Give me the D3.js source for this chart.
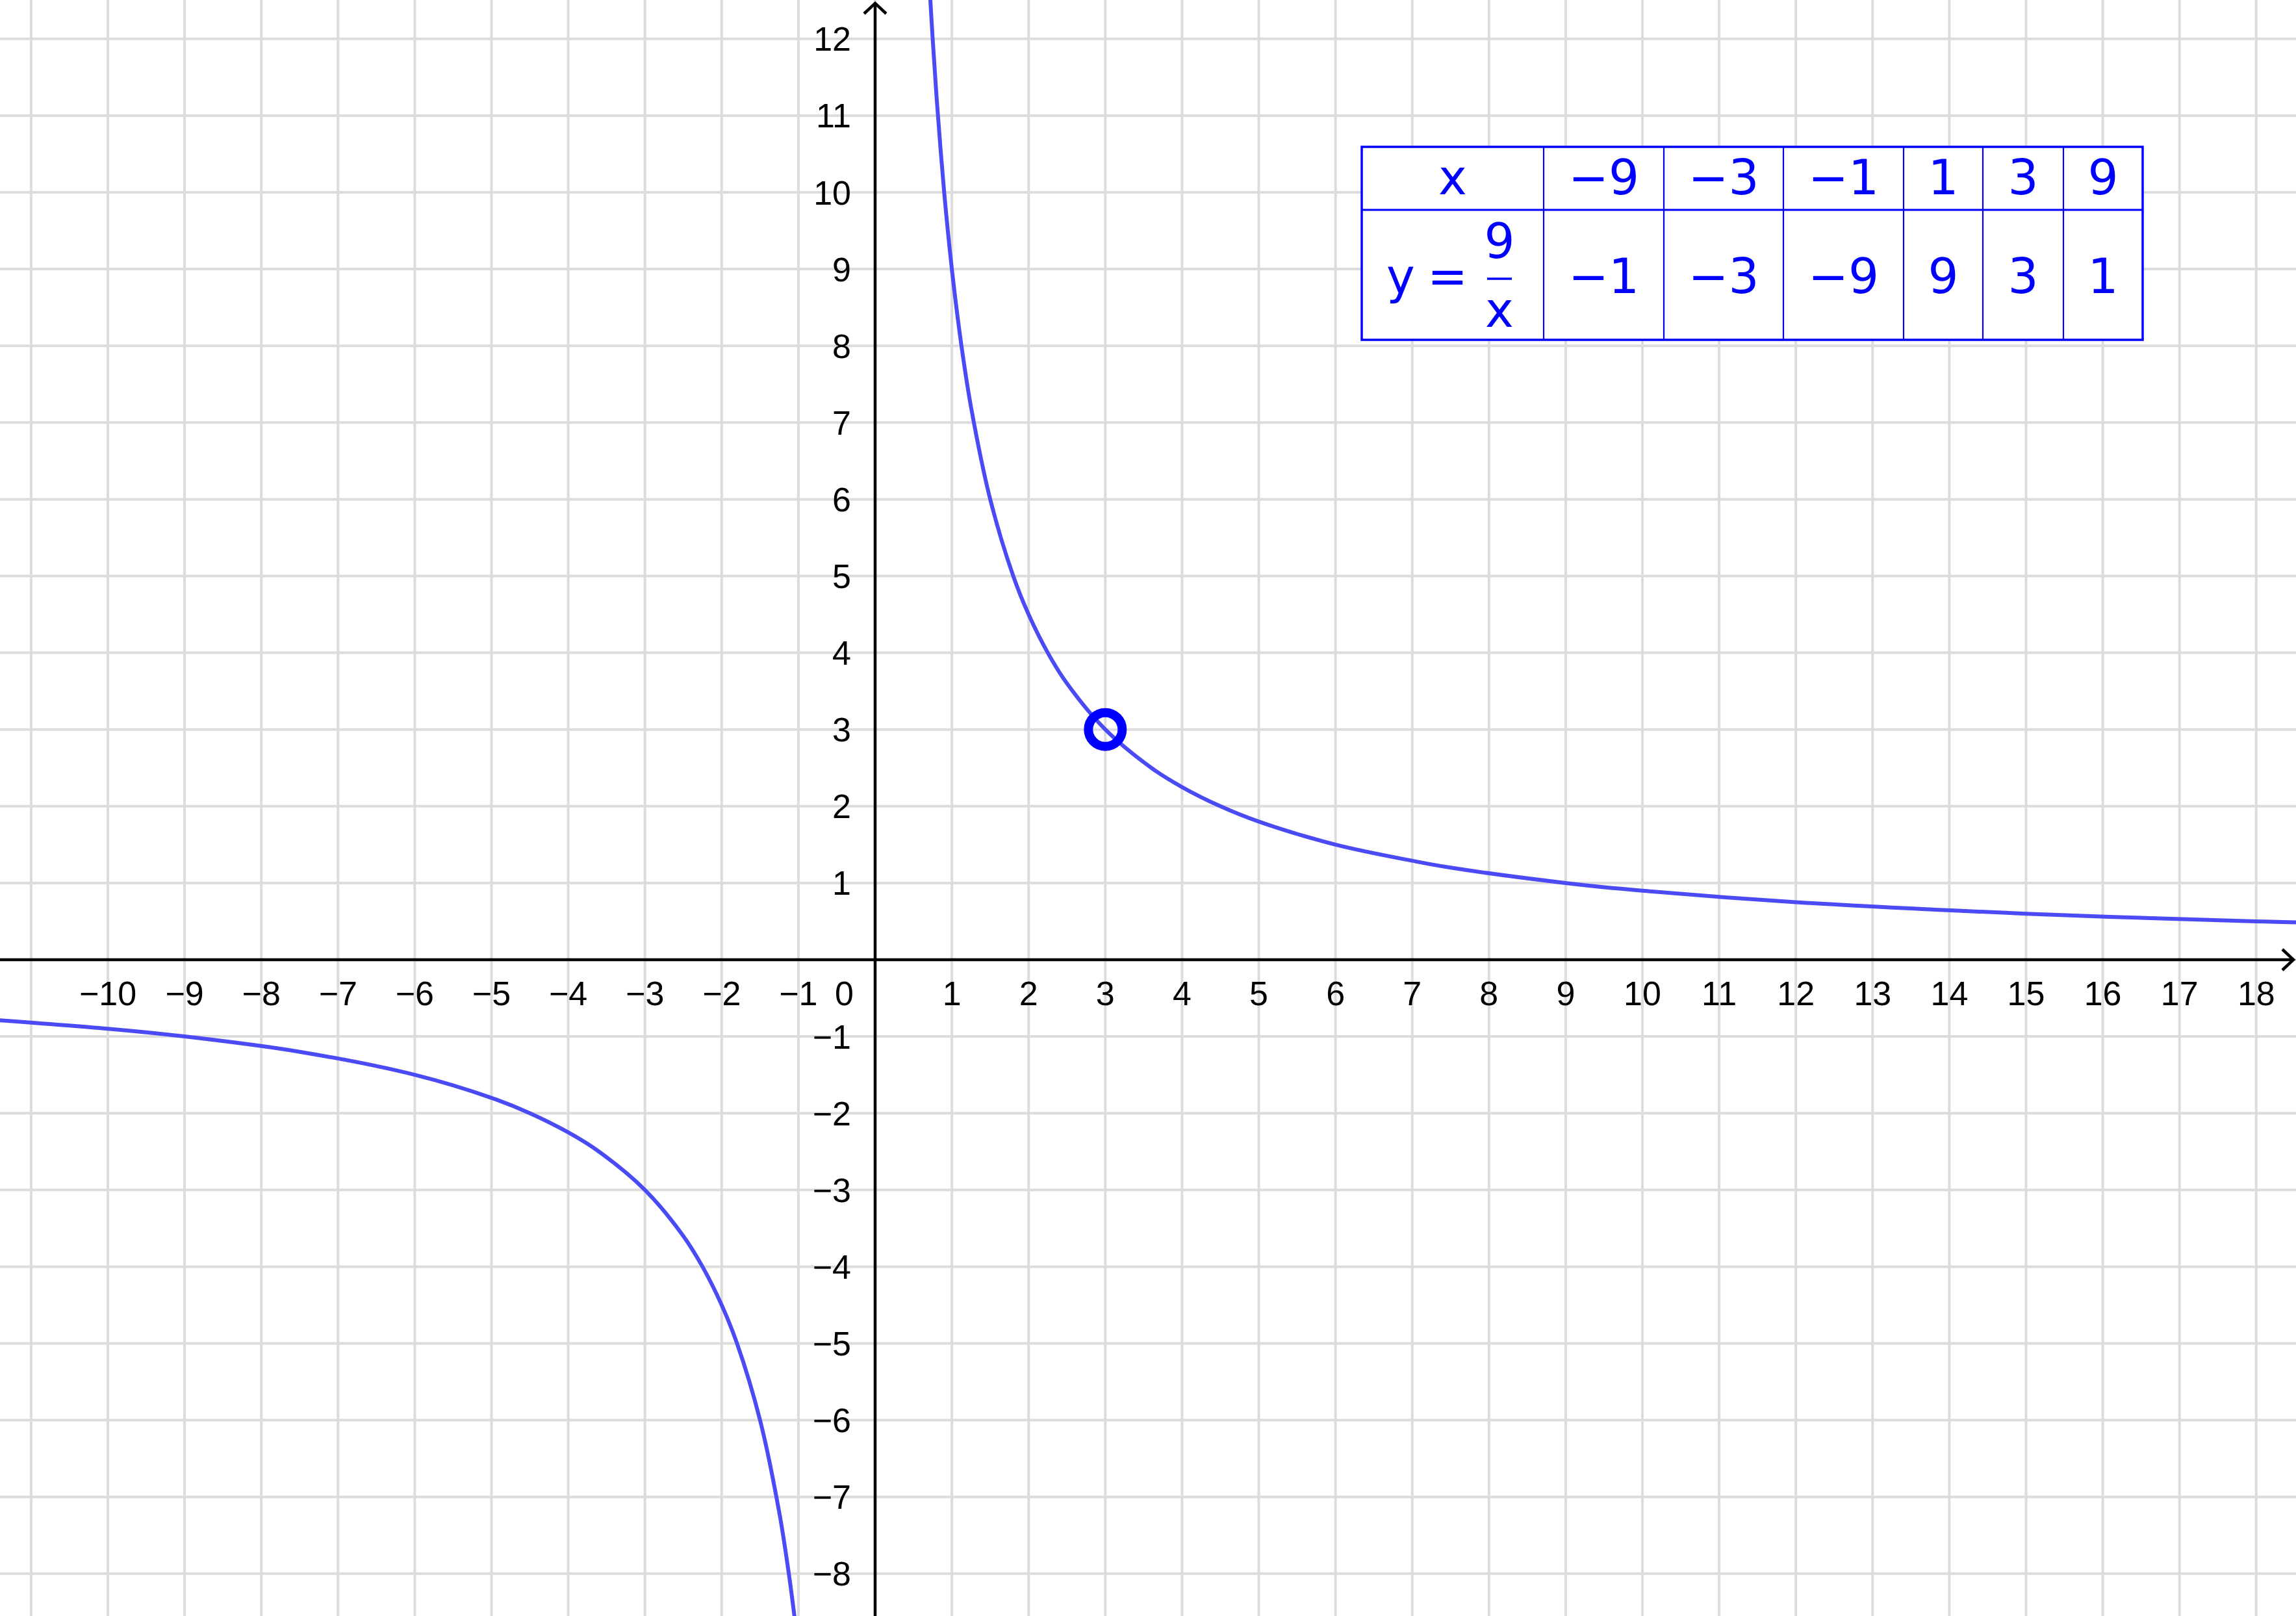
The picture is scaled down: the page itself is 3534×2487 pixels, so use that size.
<!DOCTYPE html>
<html>
<head>
<meta charset="utf-8">
<script src="https://cdn.jsdelivr.net/npm/d3@7"></script>
<style>
  html, body { margin: 0; padding: 0; background: #fff; }
  svg { display: block; }
</style>
</head>
<body>
<script>
// ---------- data ----------
const xTicks = [-10,-9,-8,-7,-6,-5,-4,-3,-2,-1,1,2,3,4,5,6,7,8,9,10,11,12,13,14,15,16,17,18];
const yTicks = [12,11,10,9,8,7,6,5,4,3,2,1,-1,-2,-3,-4,-5,-6,-7,-8];
const gridX = d3.range(-11, 19);
const gridY = d3.range(-8, 13);

// points read along the curve y = 9/x (upper branch)
const upperX = [0.72, 0.75, 0.8, 0.9, 1, 1.125, 1.25, 1.5, 1.8, 2, 2.25, 2.5, 3, 3.6, 4, 4.5, 5, 6, 7, 7.5, 9, 10, 12, 15, 18, 18.6];
const upperY = [12.5, 12, 11.25, 10, 9, 8, 7.2, 6, 5, 4.5, 4, 3.6, 3, 2.5, 2.25, 2, 1.8, 1.5, 1.29, 1.2, 1, 0.9, 0.75, 0.6, 0.5, 0.484];
// lower branch
const lowerX = [-11.5, -10, -9, -7.5, -6, -5, -4.5, -4, -3.6, -3, -2.5, -2.25, -2, -1.8, -1.5, -1.25, -1.125, -1.05];
const lowerY = [-0.783, -0.9, -1, -1.2, -1.5, -1.8, -2, -2.25, -2.5, -3, -3.6, -4, -4.5, -5, -6, -7.2, -8, -8.57];

// highlighted point
const pointX = [3];
const pointY = [3];

// table values
const tableX = ["−9", "−3", "−1", "1", "3", "9"];
const tableY = ["−1", "−3", "−9", "9", "3", "1"];

// ---------- layout ----------
const W = 3534, H = 2487;
const originX = 1347, originY = 1477, unit = 118.1;

const x = d3.scaleLinear()
  .domain([-originX / unit, (W - originX) / unit])
  .range([0, W]);
const y = d3.scaleLinear()
  .domain([-(H - originY) / unit, originY / unit])
  .range([H, 0]);

const svg = d3.select("body").append("svg")
  .attr("width", W).attr("height", H)
  .attr("viewBox", `0 0 ${W} ${H}`);

svg.append("rect").attr("width", W).attr("height", H).attr("fill", "#fff");

// grid
const grid = svg.append("g").attr("stroke", "#dcdcdc").attr("stroke-width", 4);
grid.selectAll("line.gx").data(gridX).join("line")
  .attr("class", "gx")
  .attr("x1", d => x(d)).attr("x2", d => x(d))
  .attr("y1", 0).attr("y2", H);
grid.selectAll("line.gy").data(gridY).join("line")
  .attr("class", "gy")
  .attr("y1", d => y(d)).attr("y2", d => y(d))
  .attr("x1", 0).attr("x2", W);

// axes
const x0 = x(0), y0 = y(0);
const axes = svg.append("g").attr("stroke", "#000").attr("stroke-width", 4.5).attr("fill", "none");
axes.append("line").attr("x1", 0).attr("x2", W - 4).attr("y1", y0).attr("y2", y0);
axes.append("line").attr("x1", x0).attr("x2", x0).attr("y1", 5).attr("y2", H);
axes.append("path")
  .attr("d", `M${W - 4 - 17},${y0 - 16} L${W - 4},${y0} L${W - 4 - 17},${y0 + 16}`)
  .attr("stroke-linejoin", "miter");
axes.append("path")
  .attr("d", `M${x0 - 17},${5 + 16} L${x0},5 L${x0 + 17},${5 + 16}`)
  .attr("stroke-linejoin", "miter");

// tick labels
const labelFont = "'Liberation Sans', Arial, sans-serif";
const fmt = d => d < 0 ? "−" + Math.abs(d) : String(d);
svg.append("g")
  .attr("font-family", labelFont).attr("font-size", 52).attr("fill", "#000")
  .attr("text-anchor", "middle")
  .selectAll("text").data(xTicks).join("text")
  .attr("x", d => x(d)).attr("y", y0 + 70)
  .text(fmt);
svg.append("g")
  .attr("font-family", labelFont).attr("font-size", 52).attr("fill", "#000")
  .attr("text-anchor", "end")
  .selectAll("text").data(yTicks).join("text")
  .attr("x", x0 - 37).attr("y", d => y(d) + 18.5)
  .text(fmt);
svg.append("text")
  .attr("font-family", labelFont).attr("font-size", 52).attr("fill", "#000")
  .attr("text-anchor", "end")
  .attr("x", x0 - 33).attr("y", y0 + 70)
  .text("0");

// curve
const line = d3.line().x(d => x(d[0])).y(d => y(d[1])).curve(d3.curveCatmullRom.alpha(0.5));
const curveG = svg.append("g").attr("fill", "none").attr("stroke", "#4b4bf5")
  .attr("stroke-width", 6).attr("stroke-linecap", "round").attr("stroke-linejoin", "round");
curveG.append("path").attr("d", line(d3.zip(upperX, upperY)));
curveG.append("path").attr("d", line(d3.zip(lowerX, lowerY)));

// point
svg.append("g").selectAll("circle").data(d3.zip(pointX, pointY)).join("circle")
  .attr("cx", d => x(d[0])).attr("cy", d => y(d[1]))
  .attr("r", 26).attr("fill", "#fff").attr("fill-opacity", 0)
  .attr("stroke", "#0000ff").attr("stroke-width", 14);

// table
const tLeft = 2096, tTop = 226, rowH = [97, 200];
const colW = [280, 185, 184, 185, 122, 124, 122];
const colEdges = [tLeft];
colW.forEach(w => colEdges.push(colEdges[colEdges.length - 1] + w));
const tRight = colEdges[colEdges.length - 1];
const tMid = tTop + rowH[0], tBottom = tMid + rowH[1];
const blue = "#0000ff";
const tbl = svg.append("g");
tbl.append("rect").attr("x", tLeft).attr("y", tTop)
  .attr("width", tRight - tLeft).attr("height", tBottom - tTop)
  .attr("fill", "#fff").attr("stroke", blue).attr("stroke-width", 3.5);
tbl.append("line").attr("x1", tLeft).attr("x2", tRight).attr("y1", tMid).attr("y2", tMid)
  .attr("stroke", blue).attr("stroke-width", 3);
tbl.selectAll("line.cv").data(colEdges.slice(1, -1)).join("line")
  .attr("class", "cv")
  .attr("x1", d => d).attr("x2", d => d).attr("y1", tTop).attr("y2", tBottom)
  .attr("stroke", blue).attr("stroke-width", 2.2);

const tFont = "'DejaVu Sans', sans-serif";
const tText = tbl.append("g").attr("font-family", tFont).attr("font-size", 74)
  .attr("fill", blue).attr("text-anchor", "middle");
const cellCx = i => (colEdges[i] + colEdges[i + 1]) / 2;
tText.append("text").attr("x", cellCx(0)).attr("y", 299).text("x");
tText.selectAll("text.vx").data(tableX).join("text").attr("class", "vx")
  .attr("x", (d, i) => cellCx(i + 1)).attr("y", 299).text(d => d);
tText.selectAll("text.vy").data(tableY).join("text").attr("class", "vy")
  .attr("x", (d, i) => cellCx(i + 1)).attr("y", 451).text(d => d);
// y = 9 / x
tText.append("text").attr("x", 2156).attr("y", 451).text("y");
tText.append("text").attr("x", 2228).attr("y", 451).text("=");
tText.append("text").attr("x", 2308).attr("y", 397).text("9");
tText.append("text").attr("x", 2308).attr("y", 503).text("x");
tbl.append("line").attr("x1", 2289).attr("x2", 2327).attr("y1", 429).attr("y2", 429)
  .attr("stroke", blue).attr("stroke-width", 3.5);
</script>
</body>
</html>
